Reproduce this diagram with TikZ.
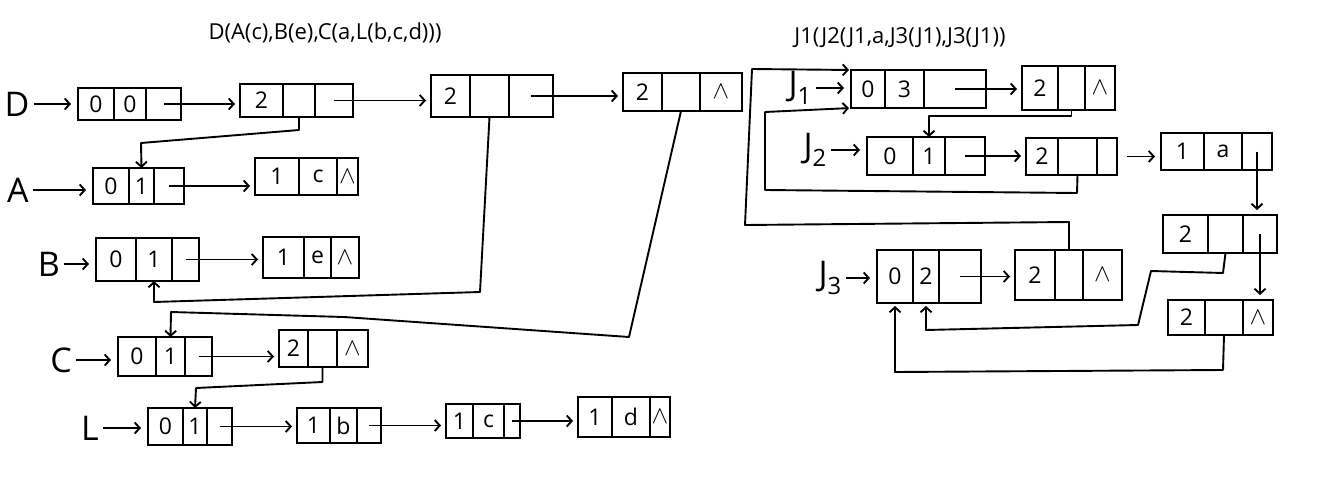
\documentclass[tikz,border=0pt]{standalone}
\usepackage{fontspec}
\setmainfont{Open Sans}
\usetikzlibrary{arrows.meta,calc}
\tikzset{
  boxframe/.style={draw, line width=1.9pt, inner sep=0pt, outer sep=0pt, rectangle},
  wall/.style={line width=1.9pt},
  celltext/.style={inner sep=0pt, font=\fontsize{23}{25}\selectfont},
  ptr/.style={line width=1.9pt, line join=round, -{Straight Barb[length=5pt,width=11pt]}},
  lbl/.style={inner sep=0pt, font=\fontsize{34}{38}\selectfont},
  ttl/.style={inner sep=0pt, font=\fontsize{22}{25}\selectfont},
}
\newcommand\lbox[9]{\def\lbN{#1}\def\lbXa{#2}\def\lbXb{#3}\def\lbYa{#4}\def\lbYb{#5}\def\lbDa{#6}\def\lbDb{#7}\def\lbTa{#8}\def\lbTb{#9}\lboxfin}
\newcommand\lboxfin[1]{%
  \node[boxframe, minimum width={(\lbXb-\lbXa)*1pt}, minimum height={(\lbYb-\lbYa)*1pt}] (\lbN) at ({(\lbXa+\lbXb)/2},{(\lbYa+\lbYb)/2}) {};
  \draw[wall] (\lbDa,\lbYa) -- (\lbDa,\lbYb) (\lbDb,\lbYa) -- (\lbDb,\lbYb);
  \node[celltext] (\lbN-1) at ({(\lbXa+\lbDa)/2},{(\lbYa+\lbYb)/2}) {\lbTa};
  \node[celltext] (\lbN-2) at ({(\lbDa+\lbDb)/2},{(\lbYa+\lbYb)/2}) {\lbTb};
  \node[celltext] (\lbN-3) at ({(\lbDb+\lbXb)/2},{(\lbYa+\lbYb)/2}) {#1};
}
\newcommand\nul{$\wedge$}
\begin{document}
\begin{tikzpicture}[x=1pt,y=-1pt]
\fill[white] (0,0) rectangle (1319,484);
\useasboundingbox (0,0) rectangle (1319,484);

% titles
\node[ttl] (t1) at (325,33) {D(A(c),B(e),C(a,L(b,c,d)))};
\node[ttl] (t2) at (900,38) {J1(J2(J1,a,J3(J1),J3(J1))};

% left lists
\lbox{D0}{78}{181}{88}{120}{114}{146}{0}{0}{}
\lbox{D1}{240}{353}{84}{117}{283}{315}{2}{}{}
\lbox{D2}{431}{553}{75}{117}{470}{509}{2}{}{}
\lbox{D3}{623}{742}{73}{111}{662}{700}{2}{}{\nul}
\lbox{A0}{93}{184}{168}{204}{129}{154}{0}{1}{}
\lbox{A1}{255}{358}{158}{195}{299}{337}{1}{c}{\nul}
\lbox{B0}{96}{199}{238}{281}{136}{172}{0}{1}{}
\lbox{B1}{263}{359}{237}{278}{304}{331}{1}{e}{\nul}
\lbox{C0}{118}{212}{337}{376}{156}{185}{0}{1}{}
\lbox{C1}{279}{368}{330}{367}{308}{337}{2}{}{\nul}
\lbox{L0}{148}{232}{408}{445}{183}{207}{0}{1}{}
\lbox{L1}{297}{381}{408}{443}{330}{357}{1}{b}{}
\lbox{L2}{446}{520}{404}{438}{473}{504}{1}{c}{}
\lbox{L3}{578}{670}{397}{437}{612}{650}{1}{d}{\nul}

% right lists
\lbox{J1a}{851}{986}{70}{108}{885}{924}{0}{3}{}
\lbox{J1b}{1022}{1115}{66}{110}{1058}{1085}{2}{}{\nul}
\lbox{J2a}{867}{985}{137}{175}{913}{945}{0}{1}{}
\lbox{J2b}{1026}{1117}{138}{175}{1058}{1097}{2}{}{}
\lbox{J2c}{1161}{1272}{133}{170}{1204}{1242}{1}{a}{}
\lbox{J2d}{1163}{1277}{215}{253}{1208}{1243}{2}{}{}
\lbox{J2e}{1168}{1273}{300}{335}{1205}{1243}{2}{}{\nul}
\lbox{J3a}{877}{981}{250}{303}{913}{939}{0}{2}{}
\lbox{J3b}{1015}{1122}{250}{300}{1055}{1083}{2}{}{\nul}

% labels
\node[lbl] (lD) at (17,104) {D};
\node[lbl] (lA) at (18,190) {A};
\node[lbl] (lB) at (49,264) {B};
\node[lbl] (lC) at (61,360) {C};
\node[lbl] (lL) at (90,428) {L};
\node[lbl, anchor=east] (lJ1) at (812,88) {J\textsubscript{1}};
\node[lbl, anchor=east] (lJ2) at (827,150) {J\textsubscript{2}};
\node[lbl, anchor=east] (lJ3) at (842,278) {J\textsubscript{3}};

\foreach \l/\b in {lD/D0,lA/A0,lB/B0,lC/C0,lL/L0,lJ1/J1a,lJ2/J2a,lJ3/J3a}
  \draw[ptr, shorten <=4pt, shorten >=7pt] (\l.east) -- (\l.east -| \b.west);

% row pointers
\foreach \a/\b in {D0/D1,D1/D2,D2/D3,A0/A1,B0/B1,C0/C1,L0/L1,L1/L2,L2/L3,J1a/J1b,J2a/J2b,J3a/J3b}
  \draw[ptr, shorten >=5pt] (\a-3.center) -- (\a-3 -| \b.west);
\draw[ptr, shorten <=10pt, shorten >=6pt] (J2b.east |- J2b-3) -- (J2b-3 -| J2c.west);

% sublist pointers, left
\draw[ptr] (D1.south -| D1-2) -- ++(0,13) -- (141,143) -- (A0.north -| A0-2);
\draw[ptr] (D2.south -| D2-2) -- (480,292) -- (154,302) -- (B0.south -| B0-2);
\draw[ptr] (D3.south -| D3-2) -- (629,337) -- (344,317) -- (171,312) -- (C0.north -| C0-2);
\draw[ptr] (C1.south -| C1-2) -- ++(0,15) -- (196,388) -- (L0.north -| L0-2);

% sublist pointers, right
\draw[ptr] (J1b.south -| J1b-2) -- ++(0,6) -| (J2a.north -| J2a-2);
\draw[ptr, shorten >=2pt] (J2b.south -| J2b-2) -- (1077,193) -- (765,190) -- (765,112) -- (J1a.south west);
\draw[ptr, shorten >=2pt] (J3b.north -| J3b-2) -- (1069,222) -- (745,225) -- (752,69) -- (J1a.north west);
\draw[ptr, shorten >=5pt] (J2c-3.center) -- (J2c-3 |- J2d.north);
\draw[ptr, shorten >=5pt] (J2d-3.center) -- (J2d-3 |- J2e.north);
\draw[ptr, shorten >=3pt] (J2d.south -| J2d-2) -- (1223,273) -- (1151,271) -- (1138,325) -- (926,330) -- (J3a.south -| J3a-2);
\draw[ptr, shorten >=3pt] (J2e.south -| J2e-2) -- (1223,370) -- (895,372) -- (J3a.south -| J3a-1);
\end{tikzpicture}
\end{document}
